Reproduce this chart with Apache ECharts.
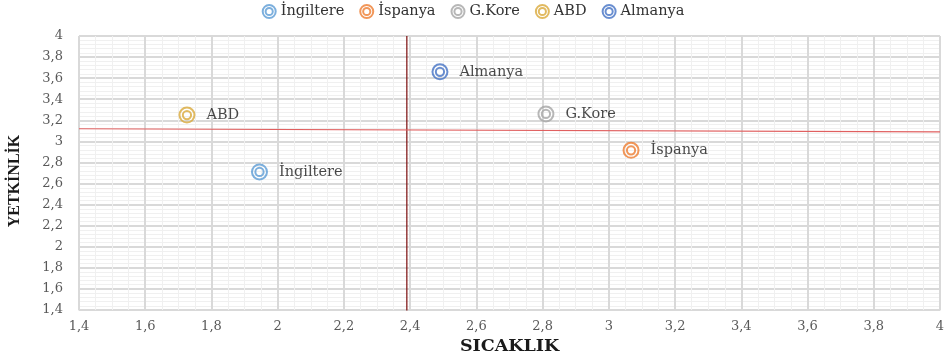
<!DOCTYPE html>
<html>
<head>
<meta charset="utf-8">
<script src="https://cdn.jsdelivr.net/npm/echarts@6/dist/echarts.min.js"></script>
<style>html,body{margin:0;padding:0;background:#fff}#c{width:946px;height:358px}</style>
</head>
<body>
<div id="c"></div>
<script>
var countries = ['İngiltere', 'İspanya', 'G.Kore', 'ABD', 'Almanya'];
var sicaklik = [1.945, 3.067, 2.81, 1.726, 2.49];
var yetkinlik = [2.71, 2.915, 3.26, 3.25, 3.66];
var colors = ['#5b9bd5', '#ed7d31', '#a5a5a5', '#d9a93a', '#4472c4'];
var vLine = [[2.39, 1.33], [2.39, 4]];
var hLine = [[1.4, 3.12], [4, 3.09]];

var serif = 'DejaVu Serif, serif';
var narrowSerif = 'Liberation Serif, serif';
var ring = 'path://M0,-10A10,10,0,1,1,0,10A10,10,0,1,1,0,-10ZM0,-5.5A5.5,5.5,0,1,1,0,5.5A5.5,5.5,0,1,1,0,-5.5Z';

var series = countries.map(function (c, i) {
  return {
    name: c,
    type: 'scatter',
    symbol: ring,
    symbolSize: 15,
    data: [[sicaklik[i], yetkinlik[i]]],
    itemStyle: { color: 'rgba(255,255,255,0)', borderColor: colors[i], borderWidth: 2 },
    label: { show: true, position: 'right', distance: 11, formatter: c, color: '#1a1a1a', fontFamily: serif, fontSize: 14.5 },
    z: 5
  };
});
series.push({
  type: 'line', data: vLine, symbol: 'none', silent: true,
  lineStyle: { color: '#7a0a0a', width: 1.2 }, z: 4
});
series.push({
  type: 'line', data: hLine, symbol: 'none', silent: true,
  lineStyle: { color: '#e06060', width: 1.2 }, z: 4
});

var fmt = function (v) { return String(+v.toFixed(1)).replace('.', ','); };

var chart = echarts.init(document.getElementById('c'));
chart.setOption({
  animation: false,
  color: colors,
  legend: {
    data: countries, top: 2, padding: [2, 5], left: 'center', itemWidth: 13, itemHeight: 13, itemGap: 15,
    textStyle: { fontFamily: serif, fontSize: 14.5, color: '#333' }
  },
  grid: { left: 79, right: 6, top: 36, bottom: 48, outerBoundsMode: 'none', containLabel: false },
  xAxis: {
    type: 'value', min: 1.4, max: 4, interval: 0.2,
    name: 'SICAKLIK', nameLocation: 'middle', nameGap: 27,
    nameTextStyle: { fontFamily: serif, fontSize: 17.5, fontWeight: 'bold', color: '#1a1a1a' },
    axisLine: { show: true, lineStyle: { color: '#d9d9d9' } },
    axisTick: { show: false },
    axisLabel: { formatter: fmt, fontFamily: serif, fontSize: 13, color: '#595959', margin: 10 },
    splitLine: { show: true, lineStyle: { color: '#d9d9d9', width: 2 } },
    minorSplitLine: { show: true, lineStyle: { color: '#f0f0f0', width: 1 } },
    minorTick: { show: false, splitNumber: 4 }
  },
  yAxis: {
    type: 'value', min: 1.4, max: 4, interval: 0.2,
    name: 'YETKİNLİK', nameLocation: 'middle', nameGap: 56, nameRotate: 90,
    nameTextStyle: { fontFamily: narrowSerif, fontSize: 16, fontWeight: 'bold', color: '#1a1a1a', padding: [0, 16, 0, 0] },
    axisLine: { show: true, lineStyle: { color: '#d9d9d9' } },
    axisTick: { show: false },
    axisLabel: { formatter: fmt, fontFamily: serif, fontSize: 13, color: '#595959', margin: 16 },
    splitLine: { show: true, lineStyle: { color: '#d9d9d9', width: 2 } },
    minorSplitLine: { show: true, lineStyle: { color: '#f0f0f0', width: 1 } },
    minorTick: { show: false, splitNumber: 5 }
  },
  series: series
});
</script>
</body>
</html>
